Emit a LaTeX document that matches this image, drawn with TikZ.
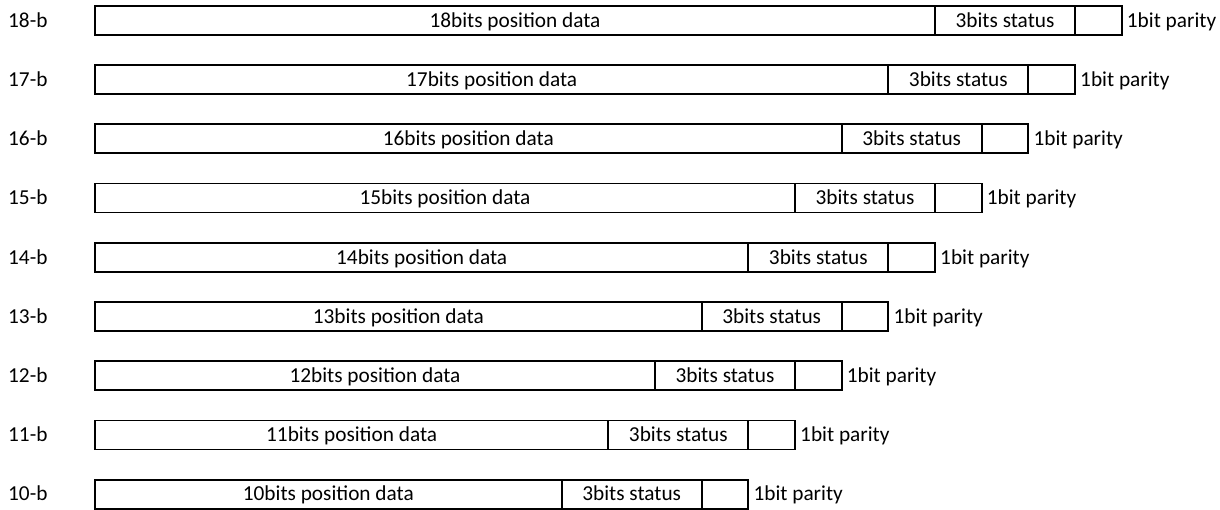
\documentclass[tikz,border=0pt]{standalone}
\usepackage{fontspec}
\setmainfont{Carlito}
\usetikzlibrary{positioning}

\tikzset{
  field/.style={draw, line width=1.8pt, minimum height=29pt, inner sep=0pt, outer sep=0pt,
    text height=17pt, text depth=3.4pt},
  rowlabel/.style={anchor=west, inner sep=0pt, text height=17pt, text depth=3.4pt},
}

\begin{document}
\begin{tikzpicture}[x=1pt,y=1pt,font=\fontsize{21.3}{25}\selectfont]
\useasboundingbox (0,0) rectangle (1220,-510);
\def\bw{46.667}
\foreach \n [count=\i from 0] in {18,17,16,15,14,13,12,11,10} {
  \node[rowlabel] (lab\n) at (8,-20.5-59.2*\i) {\n-b};
  \node[field, anchor=west, minimum width=\n*\bw pt] (data\n) at (95,-20.5-59.2*\i) {\n bits position data};
  \node[field, right=0pt of data\n, minimum width=3*\bw pt] (stat\n) {3bits status};
  \node[field, right=0pt of stat\n, minimum width=\bw pt] (par\n) {};
  \node[rowlabel, right=5pt of par\n] (plab\n) {1bit parity};
}
\end{tikzpicture}
\end{document}
